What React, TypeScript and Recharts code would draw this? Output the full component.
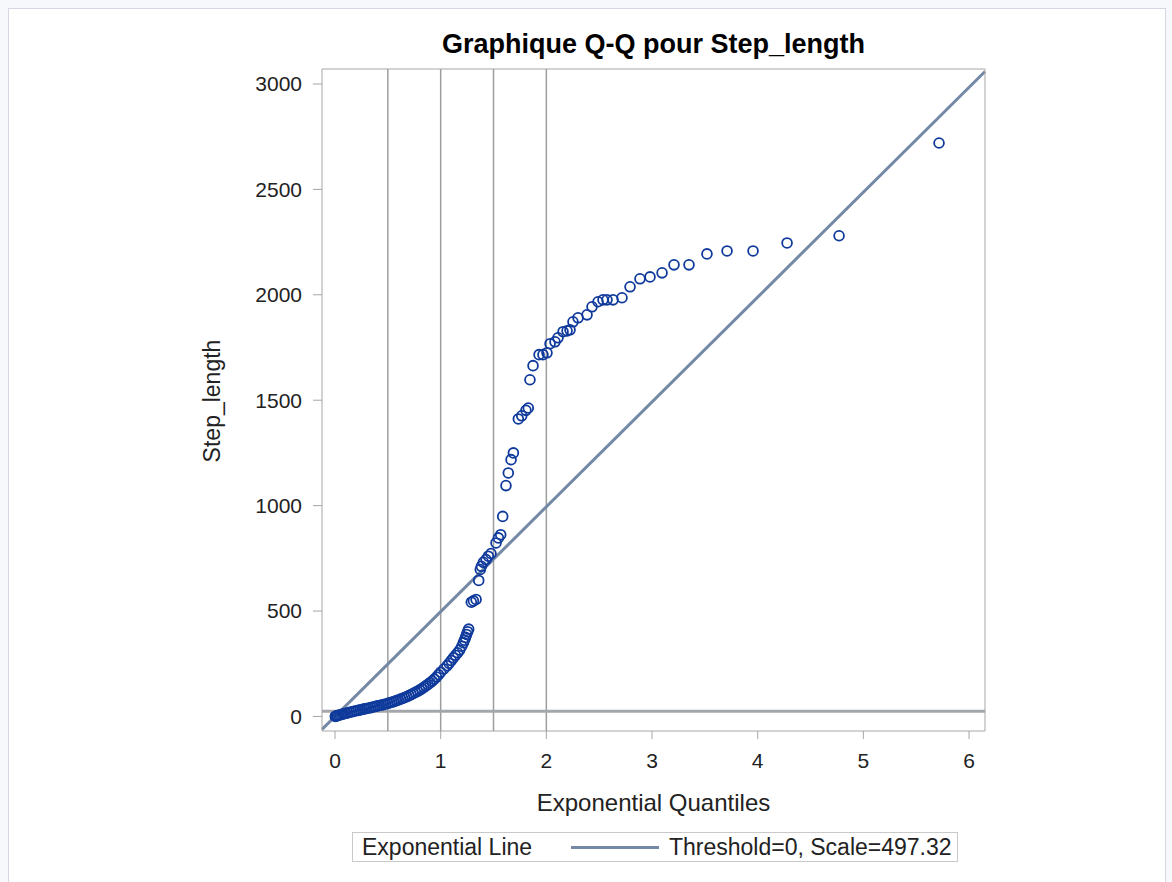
import { ReferenceLine, Scatter, ScatterChart, XAxis, YAxis } from "recharts";

// exponential quantiles (x) and Step_length (y)
const quantiles = [
  0.003, 0.01, 0.02, 0.035, 0.05, 0.065, 0.08, 0.1, 0.12, 0.14, 0.16, 0.18, 0.2, 0.22, 0.24, 0.26,
  0.28, 0.3, 0.32, 0.34, 0.36, 0.38, 0.4, 0.42, 0.44, 0.46, 0.48, 0.5, 0.52, 0.54, 0.56, 0.58, 0.6,
  0.62, 0.64, 0.66, 0.68, 0.7, 0.72, 0.74, 0.76, 0.78, 0.8, 0.82, 0.84, 0.86, 0.88, 0.9, 0.92, 0.94,
  0.96, 0.98, 1.0, 1.03, 1.06, 1.08, 1.1, 1.12, 1.14, 1.16, 1.18, 1.2, 1.215, 1.225, 1.235, 1.245,
  1.255, 1.265, 1.29, 1.31, 1.335, 1.36, 1.375, 1.385, 1.404, 1.429, 1.451, 1.476, 1.524, 1.546,
  1.568, 1.587, 1.618, 1.64, 1.666, 1.688, 1.735, 1.767, 1.807, 1.829, 1.845, 1.874, 1.931, 1.968,
  2.006, 2.035, 2.082, 2.11, 2.158, 2.196, 2.224, 2.252, 2.3, 2.385, 2.432, 2.489, 2.536, 2.574,
  2.631, 2.716, 2.792, 2.886, 2.981, 3.095, 3.208, 3.35, 3.52, 3.71, 3.956, 4.278, 4.77, 5.716,
];
const stepLength = [
  0, 2, 4, 6, 8, 10, 12, 15, 17, 20, 22, 25, 27, 29, 31, 34, 36, 38, 40, 42, 45, 47, 50, 52, 54, 57,
  59, 62, 65, 68, 71, 75, 78, 82, 86, 90, 94, 99, 104, 109, 114, 119, 125, 131, 138, 145, 152, 160,
  168, 177, 187, 198, 210, 225, 240, 252, 265, 278, 290, 302, 315, 333, 350, 362, 375, 389, 402, 414,
  542, 548, 555, 645, 697, 712, 731, 744, 760, 773, 823, 847, 862, 949, 1095, 1155, 1218, 1250, 1411,
  1426, 1452, 1463, 1597, 1664, 1716, 1716, 1725, 1768, 1777, 1796, 1825, 1829, 1834, 1872, 1891,
  1905, 1943, 1967, 1976, 1976, 1976, 1986, 2038, 2076, 2085, 2104, 2142, 2142, 2194, 2208, 2208,
  2246, 2280, 2720,
];

const xTicks = [0, 1, 2, 3, 4, 5, 6];
const yTicks = [0, 500, 1000, 1500, 2000, 2500, 3000];
const refX = [0.5, 1, 1.5, 2];
const refY = 25;
const THRESHOLD = 0;
const SCALE = 497.32;
const X_DOMAIN: [number, number] = [-0.123, 6.151];
const Y_DOMAIN: [number, number] = [-69, 3071];

const FONT = '"Liberation Sans", Arial, sans-serif';
const FRAME = "#a6a6a6";
const TEXT = "#222";
const MARKER = "#0f3a9c";
const FIT = "#7489a6";

const points = quantiles.map((q, i) => ({ x: q, y: stepLength[i] }));

// exponential reference line across the visible x range
const fitSegment = X_DOMAIN.map((x) => ({ x, y: THRESHOLD + SCALE * x }));

const Ring = (p: any) => (
  <circle cx={p.cx} cy={p.cy} r={4.9} fill="none" stroke={MARKER} strokeWidth={1.8} />
);

export default function App() {
  const tick = { fill: TEXT, fontSize: 21, fontFamily: FONT };
  return (
    <div
      style={{
        position: "absolute",
        left: 0,
        top: 0,
        width: 1172,
        height: 882,
        background: "#f7f8fc",
        fontFamily: FONT,
        color: TEXT,
      }}
    >
      <div
        style={{
          position: "absolute",
          left: 8,
          top: 8,
          width: 1156,
          height: 874,
          background: "#fff",
          border: "1px solid #d5d8e2",
        }}
      />
      <div style={{ position: "absolute", left: 0, top: 0 }}>
        <ScatterChart width={1172} height={882} margin={{ top: 68, right: 186, bottom: 111, left: 222 }}>
          <XAxis
            type="number"
            dataKey="x"
            domain={X_DOMAIN}
            ticks={xTicks}
            interval={0}
            allowDataOverflow
            height={40}
            tickSize={8}
            tickMargin={14}
            stroke={FRAME}
            tick={tick}
          />
          <XAxis
            xAxisId="top"
            orientation="top"
            type="number"
            domain={X_DOMAIN}
            allowDataOverflow
            height={1}
            tick={false}
            tickLine={false}
            stroke={FRAME}
          />
          <YAxis
            type="number"
            dataKey="y"
            domain={Y_DOMAIN}
            ticks={yTicks}
            interval={0}
            allowDataOverflow
            width={100}
            tickSize={9}
            tickMargin={11}
            stroke={FRAME}
            tick={tick}
          />
          <YAxis
            yAxisId="right"
            orientation="right"
            type="number"
            domain={Y_DOMAIN}
            allowDataOverflow
            width={1}
            tick={false}
            tickLine={false}
            stroke={FRAME}
          />
          {refX.map((v) => (
            <ReferenceLine key={v} x={v} stroke="#9d9d9d" strokeWidth={1.5} />
          ))}
          <ReferenceLine y={refY} stroke="#a3a7ab" strokeWidth={3} />
          <Scatter data={points} shape={Ring} isAnimationActive={false} />
          <ReferenceLine segment={fitSegment} stroke={FIT} strokeWidth={3} />
        </ScatterChart>
      </div>
      <div
        style={{
          position: "absolute",
          left: 322,
          width: 663,
          top: 28,
          lineHeight: "32px",
          textAlign: "center",
          fontSize: 27,
          fontWeight: "bold",
          color: "#000",
        }}
      >
        Graphique Q-Q pour Step_length
      </div>
      <div
        style={{
          position: "absolute",
          left: 112,
          top: 386,
          width: 200,
          lineHeight: "30px",
          textAlign: "center",
          fontSize: 23,
          transform: "rotate(-90deg)",
        }}
      >
        Step_length
      </div>
      <div
        style={{
          position: "absolute",
          left: 322,
          width: 663,
          top: 788,
          lineHeight: "30px",
          textAlign: "center",
          fontSize: 24,
        }}
      >
        Exponential Quantiles
      </div>
      <div
        style={{
          position: "absolute",
          left: 352,
          top: 832,
          width: 604,
          height: 28,
          border: "1px solid #c9c9c9",
          fontSize: 23,
          lineHeight: "28px",
        }}
      >
        <span style={{ position: "absolute", left: 9 }}>Exponential Line</span>
        <span
          style={{ position: "absolute", left: 218, top: 13, width: 88, height: 3, background: FIT }}
        />
        <span style={{ position: "absolute", left: 316 }}>Threshold=0, Scale=497.32</span>
      </div>
    </div>
  );
}
